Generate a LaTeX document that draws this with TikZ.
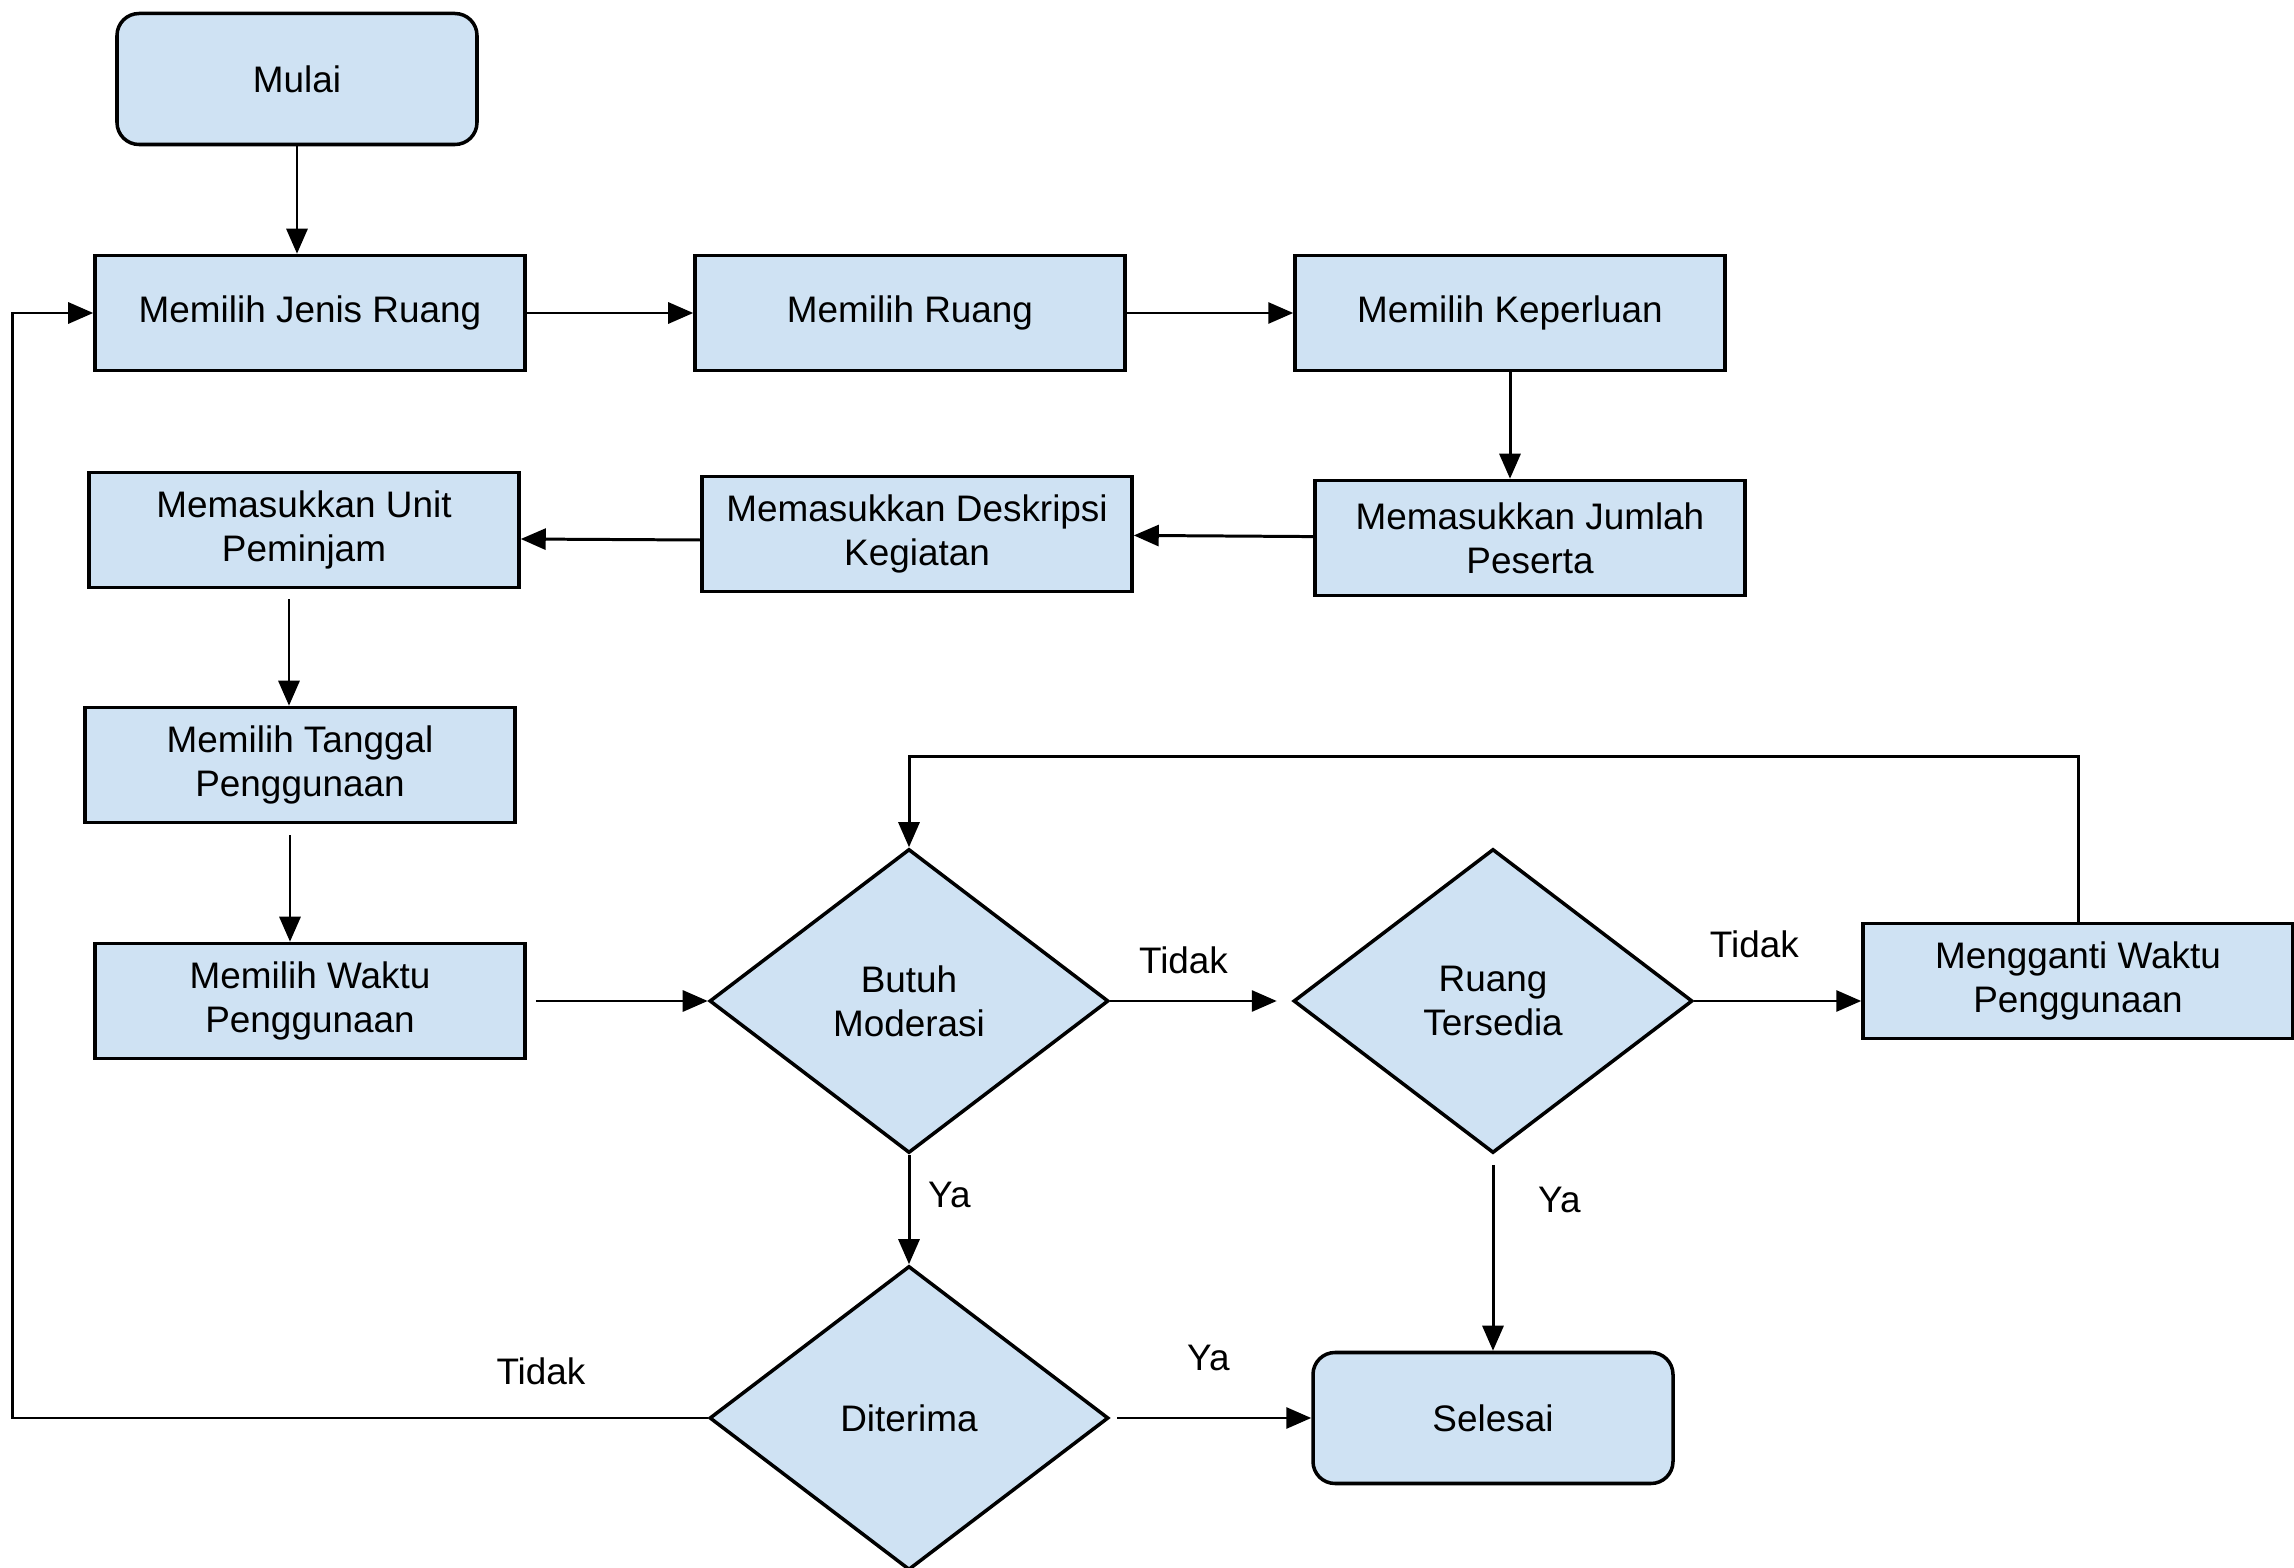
\documentclass[tikz,border=0pt]{standalone}
\usepackage{fontspec}
\setmainfont{Liberation Sans}
\usepackage{xcolor}
\usetikzlibrary{shapes.geometric,arrows.meta,positioning}
\definecolor{boxblue}{RGB}{207,226,243}
\tikzstyle{process}=[draw, fill=boxblue, line width=1pt, minimum width=4.3cm, minimum height=1.15cm, align=center, font=\fontsize{10.5}{12.5}\selectfont]
\tikzstyle{terminal}=[process, rounded corners=0.22cm, minimum width=3.6cm, minimum height=1.31cm]
\tikzstyle{decision}=[draw, fill=boxblue, line width=1pt, diamond, inner sep=0pt, minimum width=3.99cm, minimum height=3.04cm, align=center, font=\fontsize{10.5}{12.5}\selectfont]
\tikzstyle{flow}=[-{Triangle[length=2.5mm,width=2.1mm]}, line width=0.85pt]
\tikzstyle{answer}=[font=\fontsize{10.5}{12.5}\selectfont]
\begin{document}
\begin{tikzpicture}
    \useasboundingbox (0,0) rectangle (22.94,-15.68);

    % Mulai
    \node[terminal] (mulai) at (2.97,-0.79) {Mulai};

    % Baris pertama
    \node[process] (jenis) at (3.10,-3.13) {Memilih Jenis Ruang};
    \node[process] (ruang) at (9.10,-3.13) {Memilih Ruang};
    \node[process] (keperluan) at (15.10,-3.13) {Memilih Keperluan};

    % Baris kedua
    \node[process] (jumlah) at (15.30,-5.38) {Memasukkan Jumlah\\Peserta};
    \node[process] (deskripsi) at (9.17,-5.34) {Memasukkan Deskripsi\\Kegiatan};
    \node[process] (unit) at (3.04,-5.30) {Memasukkan Unit\\Peminjam};

    % Tanggal dan waktu
    \node[process] (tanggal) at (3.00,-7.65) {Memilih Tanggal\\Penggunaan};
    \node[process] (waktu) at (3.10,-10.01) {Memilih Waktu\\Penggunaan};

    % Keputusan
    \node[decision] (butuh) at (9.09,-10.01) {Butuh\\Moderasi};
    \node[decision] (tersedia) at (14.93,-10.01) {Ruang\\Tersedia};
    \node[process] (mengganti) at (20.78,-9.81) {Mengganti Waktu\\Penggunaan};
    \node[decision] (diterima) at (9.09,-14.18) {Diterima};
    \node[terminal] (selesai) at (14.93,-14.18) {Selesai};

    % Alur utama
    \draw[flow] (mulai.south) -- (mulai.south |- jenis.north);
    \draw[flow] (jenis) -- (ruang);
    \draw[flow] (ruang) -- (keperluan);
    \draw[flow] (keperluan.south) -- (keperluan.south |- jumlah.north);
    \draw[flow] (jumlah) -- (deskripsi);
    \draw[flow] ([yshift=-0.6mm]deskripsi.west) -- ([yshift=-0.9mm]unit.east);
    \draw[flow] ([xshift=-1.5mm,yshift=-1mm]unit.south) -- ([xshift=-1.5mm]unit.south |- tanggal.north);
    \draw[flow] ([xshift=-1mm,yshift=-1.1mm]tanggal.south) -- ([xshift=-1mm]tanggal.south |- waktu.north);
    \draw[flow] ([xshift=0.9mm]waktu.east) -- (butuh.west);

    % Cabang keputusan
    \draw[flow] (butuh.east) -- ([xshift=-1.5mm]tersedia.west) node[answer, pos=0.44, above=1.4mm] {Tidak};
    \draw[flow] (tersedia.east) -- (tersedia.east -| mengganti.west) node[answer, pos=0.36, above=3mm] {Tidak};
    \draw[flow] (butuh.south) -- (diterima.north) node[answer, pos=0.37, right=0.6mm] {Ya};
    \draw[flow] ([yshift=-1mm]tersedia.south) -- (selesai.north) node[answer, pos=0.19, right=3.2mm] {Ya};
    \draw[flow] ([xshift=0.7mm]diterima.east) -- (selesai.west) node[answer, pos=0.47, above=3.4mm] {Ya};

    % Kembali
    \draw[flow] (mengganti.north) -- ++(0,1.65) -| (butuh.north);
    \draw[flow] (diterima.west) -- node[answer, pos=0.24, above=2mm] {Tidak} ++(-6.95,0) |- (jenis.west);
\end{tikzpicture}
\end{document}
